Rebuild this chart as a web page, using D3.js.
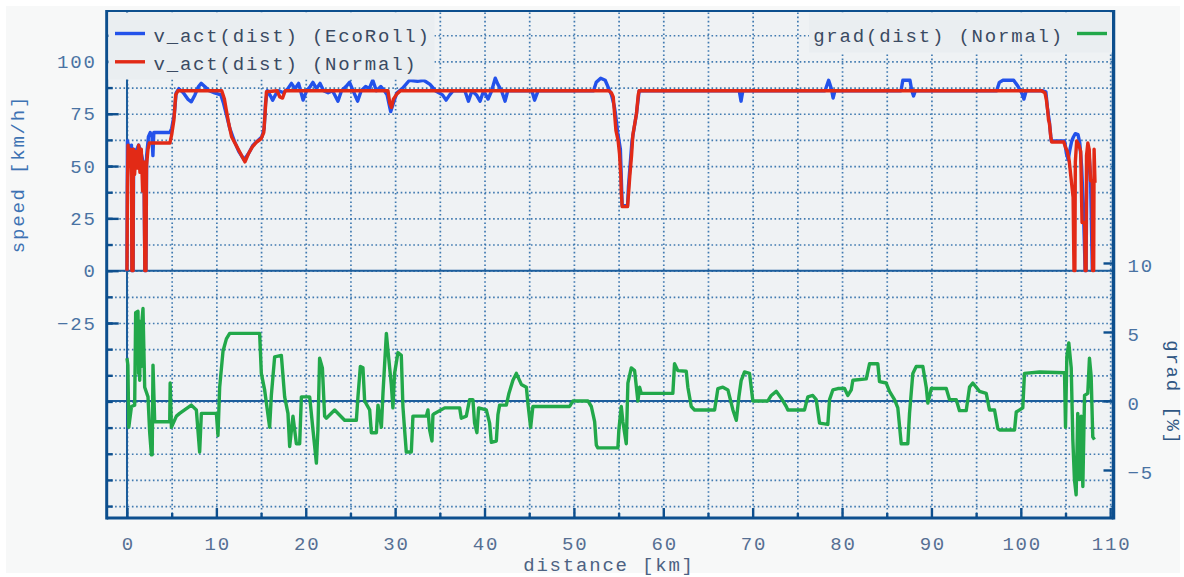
<!DOCTYPE html>
<html><head><meta charset="utf-8">
<script src="https://cdn.jsdelivr.net/npm/d3@7"></script>
<style>
html,body{margin:0;padding:0;background:#ffffff;}
svg{display:block;}
text{font-family:"Liberation Mono","Courier New",monospace;}
</style></head><body>
<svg id="chart" width="1184" height="577"></svg>
<script>
// Speed over distance, EcoRoll vs. normal driving: [km, km/h]
const ecoRoll = [
[0,0],[0.05,62],[0.3,57],[0.5,60],[0.55,0],[0.68,0],[0.75,58],[1.0,57],[1.3,60],[1.6,56],[1.9,50],[2.0,0],[2.12,0],[2.2,55],[2.4,64],[2.6,66],[2.8,64],[2.9,55],[3.0,66],[4.8,66],[5.0,68],[5.3,75],[5.5,85],[5.8,87],[6.3,85],[6.8,82],[7.2,80.7],[7.6,84],[8.0,88],[8.3,89.5],[8.7,88],[9.2,86],[9.8,85],[10.5,84],[10.8,80],[11.1,75],[11.5,68],[12.0,62],[12.5,57],[13.1,53],[13.6,56],[14.1,60],[14.6,62],[15.1,64],[15.35,68],[15.5,80],[15.7,86],[16.0,84],[16.3,81.5],[16.6,84],[17.0,86],[17.5,85],[18.0,87],[18.4,89.5],[18.8,87],[19.2,89.5],[19.7,81.5],[20.1,86],[20.5,88],[20.8,90],[21.2,87],[21.6,89.5],[22.0,86],[22.5,85],[23.0,86],[23.6,81],[24.0,86],[24.5,88],[24.9,90],[25.3,86],[25.8,81],[26.2,86],[26.7,88],[27.1,87],[27.5,91],[27.9,86],[28.4,88],[28.8,86],[29.1,84],[29.5,76],[29.8,80],[30.2,85],[30.8,87],[31.6,91],[32.5,90.5],[33.2,91],[33.9,89],[34.5,86],[35.3,84],[35.7,81.5],[36.1,84],[36.5,86],[37.8,86],[38.2,81],[38.6,86],[39.1,84],[39.5,81],[39.9,86],[40.4,82],[40.8,86],[41.2,92],[41.5,89],[41.9,86],[42.3,81],[42.6,86],[45.3,86],[45.6,81.5],[46.0,86],[52.2,86],[52.5,90],[53.0,92],[53.5,91],[53.9,87],[54.2,84],[54.5,79],[54.65,75],[54.9,66],[55.2,58],[55.3,45],[55.4,31],[56.0,31],[56.1,40],[56.5,62],[57.0,75],[57.3,86],[68.5,86],[68.7,81],[68.9,86],[78.1,86],[78.5,91],[78.8,87],[79.0,82.5],[79.2,86],[86.6,86],[86.8,91],[87.6,91],[87.8,86],[88.0,83.5],[88.2,86],[97.3,86],[97.6,90],[98.0,91],[99.2,91],[99.7,88],[100.1,85],[100.35,82],[100.6,86],[102.4,86],[102.8,85.5],[103.0,77],[103.2,71],[103.4,62],[104.9,62],[105.1,56],[105.3,53],[105.5,58],[105.7,62],[105.9,64],[106.1,65.5],[106.4,65],[106.6,61],[106.8,50],[107.0,30],[107.2,0],[107.3,0],[107.4,55],[107.6,58],[107.8,45],[108.0,0]
];

const normal = [
[0,0],[0.05,40],[0.12,60],[0.25,50],[0.4,58],[0.5,45],[0.55,0],[0.68,0],[0.72,58],[0.85,46],[1.0,57],[1.15,49],[1.3,60],[1.45,47],[1.6,58],[1.75,38],[1.9,52],[2.0,0],[2.12,0],[2.18,50],[2.35,58],[2.5,61],[4.8,61],[5.0,65],[5.25,72],[5.45,84],[5.7,86],[10.6,86],[10.9,82],[11.1,77],[11.4,70],[11.7,64],[12.2,60],[12.7,56],[13.2,52],[13.6,56],[14.0,59],[14.5,61.5],[15.0,63],[15.3,66],[15.45,75],[15.6,85.5],[16.8,86],[17.1,83],[17.4,82.5],[17.7,86],[29.2,86],[29.4,80],[29.6,78],[29.8,82],[30.2,84.5],[30.6,86],[53.9,86],[54.2,85],[54.4,83],[54.55,75],[54.7,67],[54.95,62],[55.1,56],[55.25,45],[55.3,37.7],[55.4,30.6],[56.0,30.6],[56.1,36],[56.25,45],[56.45,55],[56.6,65],[56.8,70],[57.0,75],[57.2,84],[57.3,86],[102.3,86],[102.7,85],[102.85,82],[103.0,76.8],[103.1,72],[103.2,70.5],[103.35,64],[103.45,61.5],[104.8,61.5],[105.0,59],[105.2,57],[105.4,53],[105.6,45],[105.85,35],[105.95,0],[106.05,0],[106.1,52],[106.25,62],[106.5,60],[106.7,57],[106.85,23],[107.15,23],[107.2,0],[107.3,0],[107.35,55],[107.5,61],[107.65,58],[107.8,43],[108.0,43],[108.05,0],[108.15,0],[108.2,58],[108.3,42]
];

// Road gradient over distance: [km, %]
const gradNormal = [
[0,3.1],[0.1,2.6],[0.2,-1.9],[0.5,-0.4],[0.86,-0.3],[0.97,6.4],[1.23,6.5],[1.3,2.0],[1.36,5.8],[1.42,1.5],[1.5,5.0],[1.6,2.5],[1.7,6.0],[1.79,6.7],[1.98,1.0],[2.35,0.3],[2.54,-2.3],[2.73,-3.9],[2.82,-3.9],[2.91,2.6],[3.1,-1.5],[4.78,-1.5],[4.83,1.3],[4.97,-1.9],[5.53,-1.1],[5.89,-0.9],[7.2,-0.3],[7.76,-0.65],[8.13,-3.7],[8.32,-0.9],[10.0,-0.9],[10.18,-2.5],[10.37,1.0],[10.74,3.6],[11.12,4.5],[11.49,4.9],[14.84,4.9],[15.03,2.0],[15.4,0.8],[15.96,-1.9],[16.15,0.4],[16.52,3.2],[17.27,3.3],[17.64,0.3],[18.01,-0.9],[18.2,-3.3],[18.57,-1.1],[18.95,-3.1],[19.32,-3.1],[19.51,0.3],[20.44,0.3],[20.81,-2.1],[21.19,-4.5],[21.36,-2.1],[21.55,3.1],[21.86,2.4],[22.11,-1.1],[22.3,-1.25],[23.23,-0.65],[24.35,-1.4],[25.66,-1.4],[25.84,0.3],[26.11,2.5],[26.4,2.4],[26.59,0],[27.15,-0.65],[27.34,-2.3],[27.9,-2.3],[28.08,-0.3],[28.46,-1.9],[28.64,0.55],[29.02,4.9],[29.19,3.7],[29.57,1.2],[29.75,-0.5],[29.94,2.0],[30.31,3.5],[30.69,3.3],[30.87,-0.4],[31.06,-2.1],[31.25,-3.7],[31.81,-3.7],[31.99,-1.1],[33.49,-1.1],[33.67,-0.65],[33.86,-2.1],[34.12,-2.9],[34.23,-1.0],[34.42,-0.9],[35.54,-0.5],[37.22,-0.5],[37.4,-1.25],[37.96,-1.1],[38.33,0.1],[38.7,0.1],[38.89,-1.6],[39.15,-2.3],[39.34,-0.5],[40.2,-0.65],[40.57,-1.6],[40.76,-3.0],[41.32,-2.9],[41.5,-1.0],[41.69,-0.3],[42.44,-0.3],[42.73,0.55],[43.18,1.5],[43.56,2.0],[44.12,1.2],[44.68,1.0],[44.85,-0.15],[45.16,-1.9],[45.41,-0.4],[49.52,-0.4],[49.89,0],[51.57,0],[51.95,-0.4],[52.32,-1.5],[52.51,-3.2],[52.68,-3.4],[54.92,-3.4],[55.03,-2.1],[55.3,-0.4],[55.48,-1.5],[55.86,-3.1],[56.04,1.3],[56.42,2.4],[56.79,2.2],[57.16,0],[57.35,1.0],[57.54,0.55],[61.07,0.55],[61.26,2.7],[61.63,2.2],[62.57,2.15],[62.75,1.0],[63.13,-0.4],[63.5,-0.65],[65.74,-0.65],[66.11,0.9],[66.67,1.0],[67.23,0.8],[67.79,-0.65],[68.17,-1.4],[68.46,0.3],[68.72,1.5],[69.09,2.1],[69.65,2.0],[70.02,0],[71.7,0],[72.08,0.4],[72.64,0.7],[73.2,0.2],[73.76,-0.4],[73.94,-0.65],[75.8,-0.65],[76.17,0.3],[76.73,0.4],[77.11,0.1],[77.48,-1.6],[78.41,-1.7],[78.6,0.1],[78.97,0.8],[79.53,0.9],[80.28,0.9],[80.65,0.4],[81.03,0.8],[81.21,1.5],[82.71,1.6],[83.08,2.7],[84.0,2.7],[84.19,1.4],[84.94,1.3],[85.31,0.7],[85.87,0.1],[86.24,-0.5],[86.62,-3.1],[87.36,-3.1],[87.55,-0.9],[87.92,2.0],[88.3,2.5],[89.04,2.5],[89.42,1.0],[89.6,-0.15],[89.98,0.9],[91.66,0.9],[92.02,0.1],[92.77,0.1],[93.14,-0.7],[93.89,-0.7],[94.26,1.0],[94.63,1.3],[95.38,0.7],[96.13,0.55],[96.5,-0.65],[97.06,-0.65],[97.43,-2.0],[97.62,-2.1],[99.3,-2.1],[99.49,-0.8],[100.22,-0.5],[100.41,2.0],[102.09,2.1],[104.89,2.05],[105.0,-1.9],[105.15,3.2],[105.37,4.2],[105.64,2.4],[105.82,-2.8],[106.0,-5.7],[106.19,-6.8],[106.37,-0.9],[106.56,-5.7],[106.75,-1.1],[106.94,-6.2],[107.13,0.4],[107.49,0.55],[107.68,3.1],[107.87,1.8],[108.05,-2.6],[108.24,-2.8]
];

// Tick labels
const distTicks = [0,10,20,30,40,50,60,70,80,90,100,110];
const speedTicks = [-25,0,25,50,75,100];
const gradTicks = [-5,0,5,10];

const legendLeft = ["v_act(dist) (EcoRoll)", "v_act(dist) (Normal)"];
const legendRight = ["grad(dist) (Normal)"];

const C = {
  eco: "#2352ea", normal: "#e22a16", grad: "#22a84a",
  frame: "#0d4f8e", zero: "#1d5e9c", grid: "#2e6da8",
  plotBg: "#eff2f4", pageBg: "#f7f8f8",
  tick: "#4a73a3", legend: "#3a4a62"
};
const FONT = 19, LS = "1.8px";

const svg = d3.select("#chart");
const P = {left:106.7, right:1113.5, top:11, bottom:518};

const x = d3.scaleLinear().domain([-2.27, 110.37]).range([P.left, P.right]);
const yS = d3.scaleLinear().domain([-118.2, 124.1]).range([P.bottom, P.top]);
const yG = d3.scaleLinear().domain([-8.48, 28.26]).range([P.bottom, P.top]);

// figure and plot backgrounds
svg.append("rect").attr("x",6).attr("y",6).attr("width",1174).attr("height",567).attr("fill",C.pageBg);
svg.append("rect").attr("x",P.left).attr("y",P.top)
  .attr("width",P.right-P.left).attr("height",P.bottom-P.top).attr("fill",C.plotBg);

// dotted grid
const gridX = svg.append("g").attr("transform",`translate(0,${P.bottom})`)
  .call(d3.axisBottom(x).tickValues(d3.range(0,111,5)).tickSize(-(P.bottom-P.top)).tickFormat(""));
const gridY = svg.append("g").attr("transform",`translate(${P.left},0)`)
  .call(d3.axisLeft(yS).tickValues(d3.range(-112.5,113,12.5)).tickSize(-(P.right-P.left)).tickFormat(""));
[gridX,gridY].forEach(g=>{
  g.select(".domain").remove();
  g.selectAll("line").attr("stroke",C.grid).attr("stroke-width",1.7)
    .attr("stroke-dasharray","1.6,2.6").attr("opacity",0.9);
});

// solid zero lines
svg.append("line").attr("x1",P.left).attr("x2",P.right).attr("y1",yS(0)).attr("y2",yS(0))
  .attr("stroke",C.zero).attr("stroke-width",2);
svg.append("line").attr("x1",P.left).attr("x2",P.right).attr("y1",yG(0)).attr("y2",yG(0))
  .attr("stroke",C.zero).attr("stroke-width",2);
svg.append("line").attr("x1",x(0)).attr("x2",x(0)).attr("y1",P.top).attr("y2",P.bottom)
  .attr("stroke",C.zero).attr("stroke-width",2);

// data lines
const lineS = d3.line().x(d=>x(d[0])).y(d=>yS(d[1]));
const lineG = d3.line().x(d=>x(d[0])).y(d=>yG(d[1]));
svg.append("clipPath").attr("id","plotclip").append("rect")
  .attr("x",P.left).attr("y",P.top).attr("width",P.right-P.left).attr("height",P.bottom-P.top);
const dataG = svg.append("g").attr("clip-path","url(#plotclip)");
dataG.append("path").datum(ecoRoll).attr("d",lineS).attr("fill","none")
  .attr("stroke",C.eco).attr("stroke-width",3.4).attr("stroke-linejoin","round");
dataG.append("path").datum(normal).attr("d",lineS).attr("fill","none")
  .attr("stroke",C.normal).attr("stroke-width",3.4).attr("stroke-linejoin","round");
dataG.append("path").datum(gradNormal).attr("d",lineG).attr("fill","none")
  .attr("stroke",C.grad).attr("stroke-width",3.4).attr("stroke-linejoin","round");

// axes
function styleAxis(g, color){
  g.select(".domain").remove();
  g.selectAll("line").attr("stroke",C.frame).attr("stroke-width",2.4);
  g.selectAll("text").attr("fill",color).attr("font-size",FONT)
    .attr("font-family",'"Liberation Mono","Courier New",monospace')
    .style("letter-spacing",LS);
}
// minor ticks
const minorL = svg.append("g").attr("transform",`translate(${P.left},0)`)
  .call(d3.axisLeft(yS).tickValues(d3.range(-112.5,113,12.5)).tickSize(-6).tickFormat(""));
styleAxis(minorL, C.tick);
const minorB = svg.append("g").attr("transform",`translate(0,${P.bottom})`)
  .call(d3.axisBottom(x).tickValues(d3.range(5,111,10)).tickSize(-5).tickFormat(""));
styleAxis(minorB, C.tick);

const axL = svg.append("g").attr("transform",`translate(${P.left},0)`)
  .call(d3.axisLeft(yS).tickValues(speedTicks).tickSizeInner(-12).tickSizeOuter(0).tickPadding(10)
    .tickFormat(d=>d<0?"\u2212"+Math.abs(d):String(d)));
styleAxis(axL, C.tick);
const axB = svg.append("g").attr("transform",`translate(0,${P.bottom})`)
  .call(d3.axisBottom(x).tickValues(distTicks).tickSizeInner(-10).tickSizeOuter(0).tickPadding(19));
styleAxis(axB, "#566f93");
axB.selectAll("text").attr("dx","0.9");
const axR = svg.append("g").attr("transform",`translate(${P.right},0)`)
  .call(d3.axisRight(yG).tickValues(gradTicks).tickSizeInner(-10).tickSizeOuter(0).tickPadding(14)
    .tickFormat(d=>d<0?"\u2212"+Math.abs(d):String(d)));
styleAxis(axR, C.tick);
axR.selectAll("text").attr("dy","0.45em");

// frame
svg.append("line").attr("x1",P.left).attr("x2",P.right).attr("y1",P.top).attr("y2",P.top)
  .attr("stroke",C.frame).attr("stroke-width",2);
svg.append("line").attr("x1",P.left).attr("x2",P.left).attr("y1",P.top-1).attr("y2",P.bottom+1.5)
  .attr("stroke",C.frame).attr("stroke-width",3);
svg.append("line").attr("x1",P.right).attr("x2",P.right).attr("y1",P.top-1).attr("y2",P.bottom+1.5)
  .attr("stroke",C.frame).attr("stroke-width",3.5);
svg.append("line").attr("x1",P.left).attr("x2",P.right).attr("y1",P.bottom).attr("y2",P.bottom)
  .attr("stroke",C.frame).attr("stroke-width",3);

// axis titles
function title(txt, tx, ty, rot, color){
  svg.append("text").attr("transform",`translate(${tx},${ty}) rotate(${rot})`)
    .attr("text-anchor","middle").attr("font-size",FONT).attr("fill",color)
    .style("letter-spacing",LS).text(txt);
}
title("speed [km/h]", 24, 174, -90, "#3d72b3");
title("grad [%]", 1167, 393, 90, "#2f5683");
title("distance [km]", 609, 571, 0, "#4d6282");

// legends
const lg = svg.append("g");
lg.append("rect").attr("x",108.5).attr("y",12.5).attr("width",326).attr("height",67).attr("fill","#eaeef1");
lg.append("rect").attr("x",809).attr("y",12.5).attr("width",303).attr("height",40).attr("fill","#eaeef1");
const leftColors = [C.eco, C.normal];
legendLeft.forEach((t,i)=>{
  const yy = 33.5 + i*28.3;
  lg.append("line").attr("x1",115).attr("x2",145).attr("y1",yy).attr("y2",yy)
    .attr("stroke",leftColors[i]).attr("stroke-width",3.4);
  lg.append("text").attr("x",153.5).attr("y",yy+8.5).attr("font-size",FONT)
    .attr("fill",C.legend).style("letter-spacing",LS).text(t);
});
legendRight.forEach((t,i)=>{
  const yy = 33.5;
  lg.append("line").attr("x1",1077).attr("x2",1107).attr("y1",yy).attr("y2",yy)
    .attr("stroke",C.grad).attr("stroke-width",3.4);
  lg.append("text").attr("x",1064).attr("y",yy+8.5).attr("text-anchor","end").attr("font-size",FONT)
    .attr("fill",C.legend).style("letter-spacing",LS).text(t);
});
</script></body></html>
